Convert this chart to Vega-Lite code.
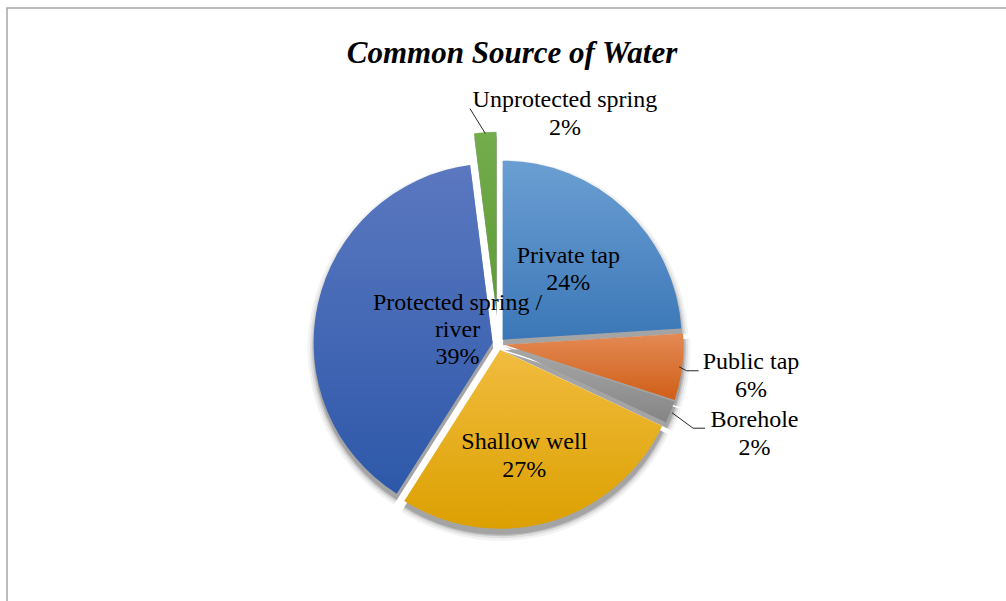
{
  "$schema": "https://vega.github.io/schema/vega-lite/v6.json",
  "width": 1010,
  "height": 672,
  "autosize": {"type": "none"},
  "padding": {"left": 7, "top": 8, "right": 0, "bottom": 0},
  "background": "white",
  "config": {
    "view": {"stroke": "#a6a6a6", "strokeWidth": 1.5},
    "font": "Liberation Serif"
  },
  "title": {
    "text": "Common Source of Water",
    "font": "Liberation Serif",
    "fontSize": 31,
    "fontStyle": "italic",
    "fontWeight": "bold",
    "color": "#000000",
    "anchor": "middle",
    "frame": "group",
    "baseline": "alphabetic",
    "offset": -52,
    "dy": 34
  },
  "data": {
    "values": [
      {"order": 1, "source": "Private tap", "pct": 24},
      {"order": 2, "source": "Public tap", "pct": 6},
      {"order": 3, "source": "Borehole", "pct": 2},
      {"order": 4, "source": "Shallow well", "pct": 27},
      {"order": 5, "source": "Protected spring / river", "pct": 39},
      {"order": 6, "source": "Unprotected spring", "pct": 2}
    ]
  },
  "transform": [
    {"window": [{"op": "sum", "field": "pct", "as": "a1"}], "sort": [{"field": "order"}], "frame": [null, 0]},
    {"calculate": "datum.a1 - datum.pct", "as": "a0"},
    {"calculate": "(datum.a0 + datum.a1) / 2", "as": "midpct"},
    {"calculate": "datum.midpct / 50 * PI", "as": "mid"},
    {"calculate": "datum.source === 'Unprotected spring' ? 33 : 6", "as": "boom"},
    {"calculate": "datum.source === 'Protected spring / river' ? ['Protected spring /', 'river', datum.pct + '%'] : [datum.source, datum.pct + '%']", "as": "label"}
  ],
  "layer": [
    {
      "encoding": {
        "theta": {"field": "a0", "type": "quantitative", "scale": {"domain": [0, 100], "range": [0, 6.283185307179586]}},
        "theta2": {"field": "a1"}
      },
      "layer": [
        {"mark": {"type": "arc", "radius": 179.5, "fill": "#000000", "fillOpacity": 0.16, "xOffset": {"expr": "-13 + datum.boom * sin(datum.mid)"}, "yOffset": {"expr": "5.5 - datum.boom * cos(datum.mid)"}}},
        {"mark": {"type": "arc", "radius": 181, "fill": "#000000", "fillOpacity": 0.12, "xOffset": {"expr": "-13 + datum.boom * sin(datum.mid)"}, "yOffset": {"expr": "5.5 - datum.boom * cos(datum.mid)"}}},
        {"mark": {"type": "arc", "radius": 183, "fill": "#000000", "fillOpacity": 0.08, "xOffset": {"expr": "-13 + datum.boom * sin(datum.mid)"}, "yOffset": {"expr": "5.5 - datum.boom * cos(datum.mid)"}}},
        {"mark": {"type": "arc", "radius": 185.5, "fill": "#000000", "fillOpacity": 0.05, "xOffset": {"expr": "-13 + datum.boom * sin(datum.mid)"}, "yOffset": {"expr": "5.5 - datum.boom * cos(datum.mid)"}}},
        {
          "transform": [{"filter": "datum.source === 'Private tap'"}],
          "mark": {"type": "arc", "radius": 179, "xOffset": {"expr": "-13.5 + datum.boom * sin(datum.mid)"}, "yOffset": {"expr": "-datum.boom * cos(datum.mid)"},
            "fill": {"gradient": "linear", "x1": 0, "y1": 0, "x2": 0, "y2": 1, "stops": [{"offset": 0, "color": "#6b9fd3"}, {"offset": 1, "color": "#3b77b7"}]}}
        },
        {
          "transform": [{"filter": "datum.source === 'Public tap'"}],
          "mark": {"type": "arc", "radius": 179, "xOffset": {"expr": "-13.5 + datum.boom * sin(datum.mid)"}, "yOffset": {"expr": "-datum.boom * cos(datum.mid)"},
            "fill": {"gradient": "linear", "x1": 0, "y1": 0, "x2": 0, "y2": 1, "stops": [{"offset": 0, "color": "#e38a55"}, {"offset": 1, "color": "#d05e17"}]}}
        },
        {
          "transform": [{"filter": "datum.source === 'Borehole'"}],
          "mark": {"type": "arc", "radius": 179, "xOffset": {"expr": "-13.5 + datum.boom * sin(datum.mid)"}, "yOffset": {"expr": "-datum.boom * cos(datum.mid)"},
            "fill": {"gradient": "linear", "x1": 0, "y1": 0, "x2": 0, "y2": 1, "stops": [{"offset": 0, "color": "#a8a8a8"}, {"offset": 1, "color": "#858585"}]}}
        },
        {
          "transform": [{"filter": "datum.source === 'Shallow well'"}],
          "mark": {"type": "arc", "radius": 179, "xOffset": {"expr": "-13.5 + datum.boom * sin(datum.mid)"}, "yOffset": {"expr": "-datum.boom * cos(datum.mid)"},
            "fill": {"gradient": "linear", "x1": 0, "y1": 0, "x2": 0, "y2": 1, "stops": [{"offset": 0, "color": "#f1bc3f"}, {"offset": 1, "color": "#dca000"}]}}
        },
        {
          "transform": [{"filter": "datum.source === 'Protected spring / river'"}],
          "mark": {"type": "arc", "radius": 179, "xOffset": {"expr": "-13.5 + datum.boom * sin(datum.mid)"}, "yOffset": {"expr": "-datum.boom * cos(datum.mid)"},
            "fill": {"gradient": "linear", "x1": 0, "y1": 0, "x2": 0, "y2": 1, "stops": [{"offset": 0, "color": "#5b78c0"}, {"offset": 1, "color": "#2d58a9"}]}}
        },
        {
          "transform": [{"filter": "datum.source === 'Unprotected spring'"}],
          "mark": {"type": "arc", "radius": 179, "xOffset": {"expr": "-13.5 + datum.boom * sin(datum.mid)"}, "yOffset": {"expr": "-datum.boom * cos(datum.mid)"},
            "fill": {"gradient": "linear", "x1": 0, "y1": 0, "x2": 0, "y2": 1, "stops": [{"offset": 0, "color": "#74ad4c"}, {"offset": 1, "color": "#5e9b36"}]}}
        }
      ]
    },
    {
      "transform": [
        {"filter": "indexof(['Public tap', 'Borehole', 'Unprotected spring'], datum.source) >= 0"},
        {"calculate": "datum.source === 'Public tap' ? 182 : datum.source === 'Borehole' ? 186.5 : 211", "as": "r1"},
        {"calculate": "datum.source === 'Public tap' ? 190 : datum.source === 'Borehole' ? 212 : 237", "as": "r2"},
        {"calculate": "datum.source === 'Public tap' ? 0.9 : datum.source === 'Borehole' ? 1.8 : -3.3", "as": "tilt"},
        {"calculate": "datum.source === 'Unprotected spring' ? 0 : 12", "as": "run"},
        {"calculate": "datum.r1 * sin(datum.mid)", "as": "lx1"},
        {"calculate": "-datum.r1 * cos(datum.mid)", "as": "ly1"},
        {"calculate": "datum.r2 * sin(datum.mid + datum.tilt * PI / 180)", "as": "lx2"},
        {"calculate": "-datum.r2 * cos(datum.mid + datum.tilt * PI / 180)", "as": "ly2"},
        {"calculate": "datum.lx2 + datum.run", "as": "lx3"}
      ],
      "layer": [
        {
          "mark": {"type": "rule", "color": "#262626", "strokeWidth": 1},
          "encoding": {
            "x": {"field": "lx1", "type": "quantitative", "scale": {"domain": [-491.5, 518.5], "nice": false, "zero": false}, "axis": null},
            "y": {"field": "ly1", "type": "quantitative", "scale": {"domain": [-336, 336], "nice": false, "zero": false, "reverse": true}, "axis": null},
            "x2": {"field": "lx2"},
            "y2": {"field": "ly2"}
          }
        },
        {
          "mark": {"type": "rule", "color": "#262626", "strokeWidth": 1},
          "encoding": {
            "x": {"field": "lx2", "type": "quantitative"},
            "y": {"field": "ly2", "type": "quantitative"},
            "x2": {"field": "lx3"}
          }
        }
      ]
    },
    {
      "transform": [{"filter": "datum.source === 'Private tap'"}],
      "mark": {"type": "text", "radius": 102, "xOffset": -13.5, "dy": -13.75, "font": "Liberation Serif", "fontSize": 24, "lineHeight": 27.5, "align": "center", "baseline": "middle", "color": "#000000"},
      "encoding": {"theta": {"field": "midpct", "type": "quantitative", "stack": null}, "text": {"field": "label"}}
    },
    {
      "transform": [{"filter": "datum.source === 'Shallow well'"}],
      "mark": {"type": "text", "radius": 114, "xOffset": -13.5, "dx": -6, "dy": -11.75, "font": "Liberation Serif", "fontSize": 24, "lineHeight": 28, "align": "center", "baseline": "middle", "color": "#000000"},
      "encoding": {"theta": {"field": "midpct", "type": "quantitative", "stack": null}, "text": {"field": "label"}}
    },
    {
      "transform": [{"filter": "datum.source === 'Protected spring / river'"}],
      "mark": {"type": "text", "radius": 43, "xOffset": -13.5, "dx": 1, "dy": -31.5, "font": "Liberation Serif", "fontSize": 24, "lineHeight": 27, "align": "center", "baseline": "middle", "color": "#000000"},
      "encoding": {"theta": {"field": "midpct", "type": "quantitative", "stack": null}, "text": {"field": "label"}}
    },
    {
      "transform": [{"filter": "datum.source === 'Public tap'"}],
      "mark": {"type": "text", "radius": 254.5, "xOffset": -13.5, "dy": -13.75, "font": "Liberation Serif", "fontSize": 24, "lineHeight": 27.5, "align": "center", "baseline": "middle", "color": "#000000"},
      "encoding": {"theta": {"field": "midpct", "type": "quantitative", "stack": null}, "text": {"field": "label"}}
    },
    {
      "transform": [{"filter": "datum.source === 'Borehole'"}],
      "mark": {"type": "text", "radius": 271, "xOffset": -13.5, "dx": 4, "dy": -24, "font": "Liberation Serif", "fontSize": 24, "lineHeight": 28.5, "align": "center", "baseline": "middle", "color": "#000000"},
      "encoding": {"theta": {"field": "midpct", "type": "quantitative", "stack": null}, "text": {"field": "label"}}
    },
    {
      "transform": [{"filter": "datum.source === 'Unprotected spring'"}],
      "mark": {"type": "text", "radius": 240, "xOffset": -13.5, "dx": 81.5, "dy": -4, "font": "Liberation Serif", "fontSize": 24, "lineHeight": 28, "align": "center", "baseline": "middle", "color": "#000000"},
      "encoding": {"theta": {"field": "midpct", "type": "quantitative", "stack": null}, "text": {"field": "label"}}
    }
  ]
}
